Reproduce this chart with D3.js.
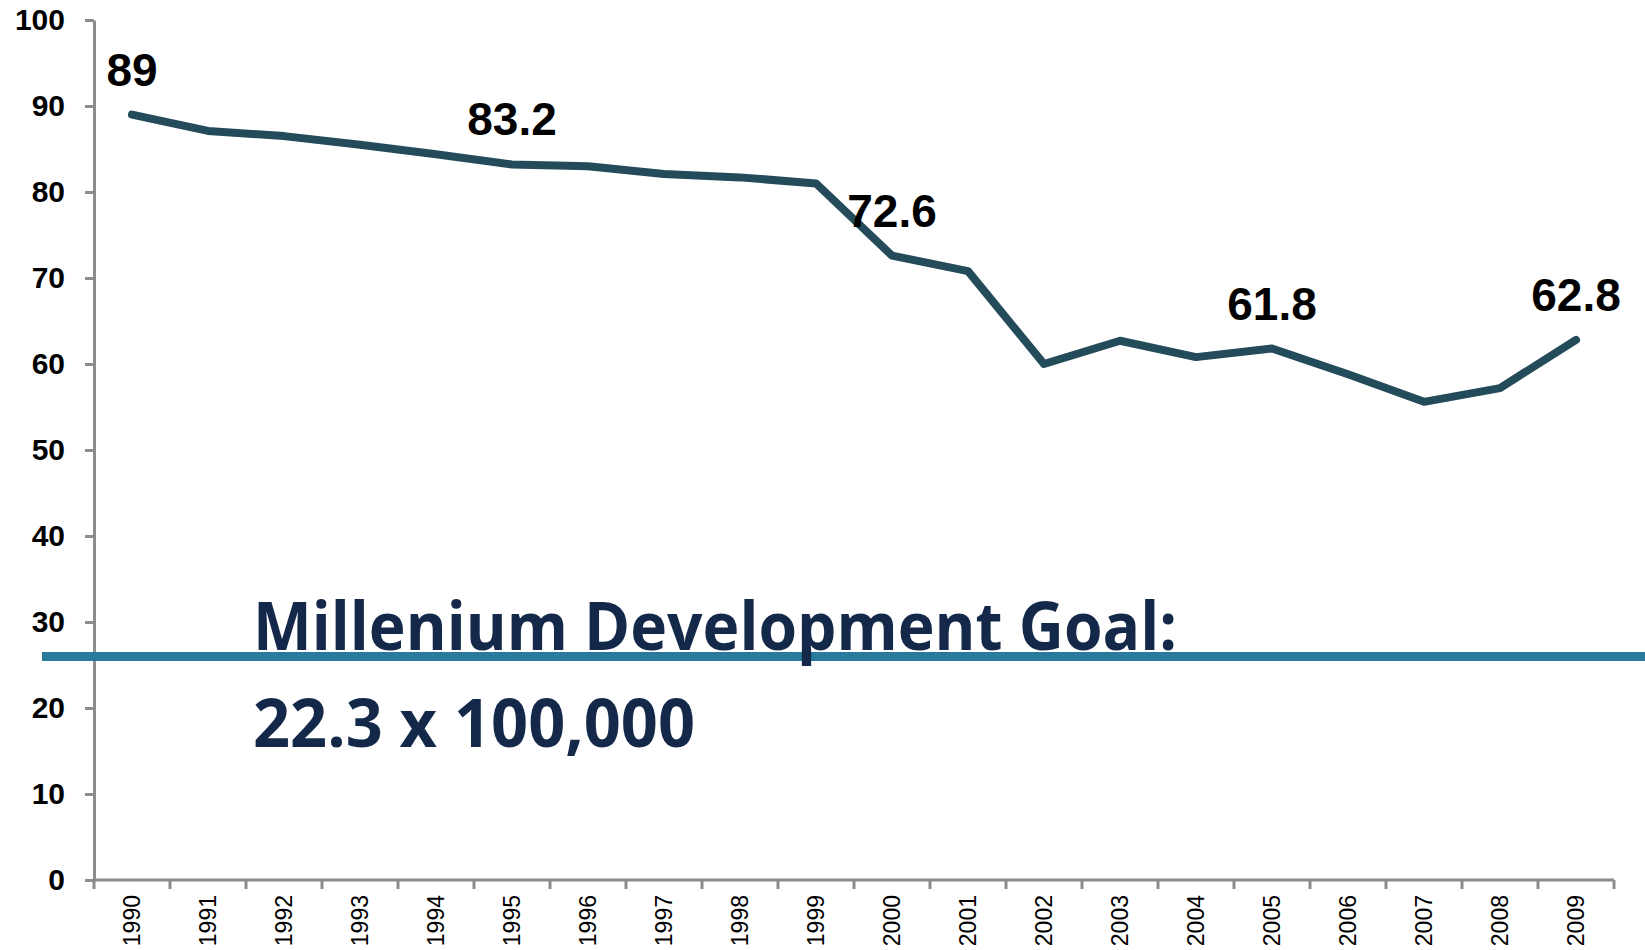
<!DOCTYPE html>
<html>
<head>
<meta charset="utf-8">
<script src="https://cdn.jsdelivr.net/npm/d3@7"></script>
<style>
  body { margin: 0; background: #fff; }
  svg { display: block; font-family: "Liberation Sans", Arial, sans-serif; }
  .axis path, .axis line { stroke: #8c8c8c; stroke-width: 3px; }
  .y.axis text { font-size: 30px; font-weight: bold; fill: #000; }
  .x.axis text { font-size: 23px; fill: #000; }
</style>
</head>
<body>
<svg id="chart" width="1645" height="950"></svg>
<script>
// data
var years  = ["1990","1991","1992","1993","1994","1995","1996","1997","1998","1999",
              "2000","2001","2002","2003","2004","2005","2006","2007","2008","2009"];
var values = [89, 87.1, 86.5, 85.5, 84.4, 83.2, 83.0, 82.1, 81.7, 81.0,
              72.6, 70.8, 60.0, 62.7, 60.8, 61.8, 58.8, 55.6, 57.2, 62.8];
var labelled = ["1990", "1995", "2000", "2005", "2009"];
var yTicks = [0, 10, 20, 30, 40, 50, 60, 70, 80, 90, 100];
var goalValue = 26;
var goalText = ["Millenium Development Goal:", "22.3 x 100,000"];

var margin = {top: 20, right: 31, bottom: 70, left: 94},
    width  = 1645 - margin.left - margin.right,
    height = 950 - margin.top - margin.bottom;

var svg = d3.select("#chart");
var g = svg.append("g")
           .attr("transform", "translate(" + margin.left + "," + margin.top + ")");

var x = d3.scaleBand().domain(years).range([0, width]);
var y = d3.scaleLinear().domain([0, 100]).range([height, 0]);

// y axis
g.append("g")
  .attr("class", "y axis")
  .call(d3.axisLeft(y).tickValues(yTicks).tickSize(9).tickPadding(20).tickSizeOuter(0));

// x axis, ticks on band edges
var xAxis = g.append("g")
  .attr("class", "x axis")
  .attr("transform", "translate(0," + height + ")");
xAxis.append("line")
  .attr("x1", 0).attr("x2", width).attr("y1", 0).attr("y2", 0);
xAxis.selectAll("line.tk")
  .data(years.concat(["end"]))
  .join("line")
  .attr("class", "tk")
  .attr("x1", function(d, i) { return i * x.step(); })
  .attr("x2", function(d, i) { return i * x.step(); })
  .attr("y1", 0).attr("y2", 9);
xAxis.selectAll("text")
  .data(years)
  .join("text")
  .attr("text-anchor", "end")
  .attr("dy", "0.35em")
  .attr("transform", function(d) {
    return "translate(" + (x(d) + x.bandwidth() / 2) + ",15)rotate(-90)";
  })
  .text(function(d) { return d; });

// goal line
svg.append("line")
  .attr("x1", 42).attr("x2", 1645)
  .attr("y1", margin.top + y(goalValue)).attr("y2", margin.top + y(goalValue))
  .attr("stroke", "#2a7a9e")
  .attr("stroke-width", 9);

// data line
var line = d3.line()
  .x(function(d, i) { return x(years[i]) + x.bandwidth() / 2; })
  .y(function(d) { return y(d); });

g.append("path")
  .datum(values)
  .attr("fill", "none")
  .attr("stroke", "#234b59")
  .attr("stroke-width", 8)
  .attr("stroke-linejoin", "round")
  .attr("stroke-linecap", "round")
  .attr("d", line);

// value labels
g.selectAll("text.val")
  .data(labelled)
  .join("text")
  .attr("class", "val")
  .attr("text-anchor", "middle")
  .attr("x", function(d) { return x(d) + x.bandwidth() / 2; })
  .attr("y", function(d) { return y(values[years.indexOf(d)]) - 29; })
  .attr("font-size", 46)
  .attr("font-weight", "bold")
  .attr("fill", "#000")
  .text(function(d) { return values[years.indexOf(d)]; });

// goal text
var goalLen = [924, 442];
svg.selectAll("text.goal")
  .data(goalText)
  .join("text")
  .attr("class", "goal")
  .attr("x", 253)
  .attr("y", function(d, i) { return 650 + i * 97; })
  .attr("font-family", "'Open Sans', sans-serif")
  .attr("font-weight", "bold")
  .attr("font-size", 66)
  .attr("fill", "#14294a")
  .attr("textLength", function(d, i) { return goalLen[i]; })
  .attr("lengthAdjust", "spacingAndGlyphs")
  .text(function(d) { return d; });
</script>
</body>
</html>
